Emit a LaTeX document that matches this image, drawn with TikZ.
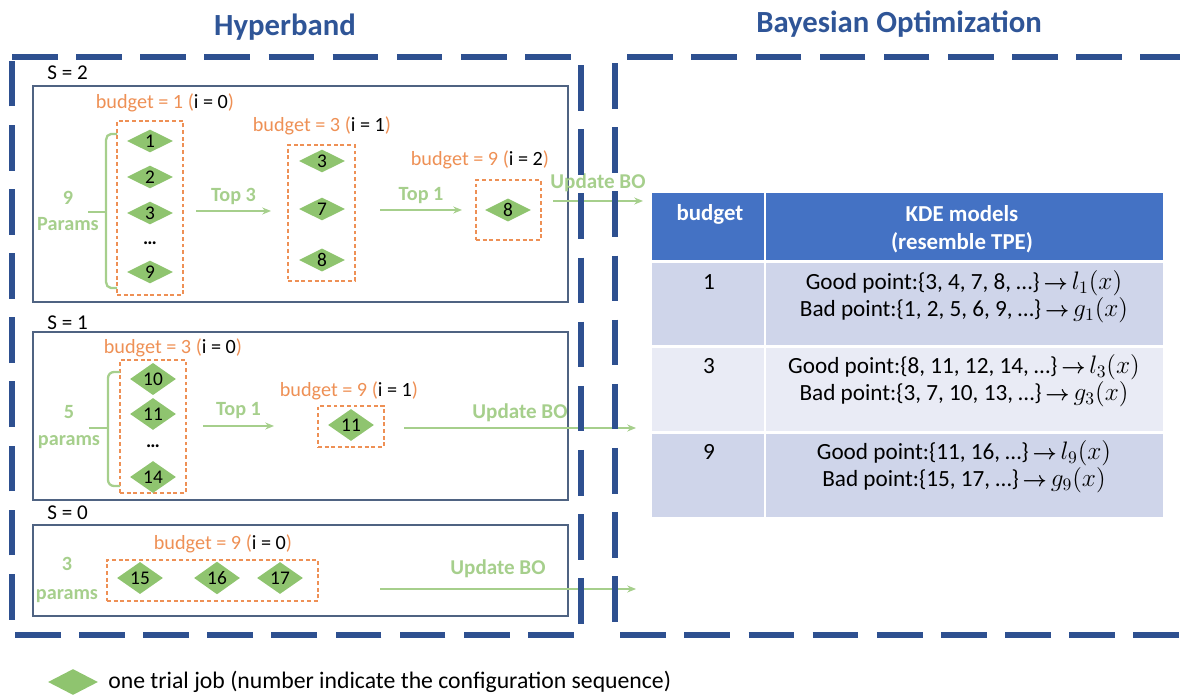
\documentclass[tikz,border=0pt]{standalone}
\usepackage{fontspec}
\setmainfont{Carlito}
\usetikzlibrary{arrows.meta,shapes.geometric,fit,calc}
\definecolor{dblue}{HTML}{2F5597}
\definecolor{dashblue}{HTML}{2E5090}
\definecolor{boxgray}{HTML}{4F6382}
\definecolor{orng}{HTML}{EE9055}
\definecolor{gtext}{HTML}{A6CF8C}
\definecolor{gfill}{HTML}{8FC46F}
\definecolor{hdrblue}{HTML}{4472C4}
\definecolor{rowdark}{HTML}{CFD5EA}
\definecolor{rowlight}{HTML}{E9EBF5}
\tikzset{
  bigdash/.style={draw=dashblue, line width=3.4pt, dash pattern=on 26pt off 10.5pt},
  ibox/.style={draw=boxgray, line width=0.7pt, inner sep=0pt},
  obox/.style={draw=orng, line width=0.75pt, dash pattern=on 2.2pt off 1.6pt, inner sep=0pt},
  job/.style={shape=diamond, fill=gfill, inner sep=0pt, minimum width=0.92cm, minimum height=0.46cm, font=\fontsize{11}{12}\selectfont},
  btxt/.style={font=\fontsize{11.5}{13}\selectfont, text=orng, inner sep=0pt},
  gbold/.style={font=\bfseries\fontsize{11.5}{13}\selectfont, text=gtext, inner sep=0pt, align=center},
  garrow/.style={draw=gtext, line width=0.7pt, -{Stealth[length=5pt,width=4pt]}},
  brace/.style={draw=gtext, line width=1.3pt},
  stxt/.style={font=\fontsize{12}{14}\selectfont, inner sep=0pt},
  ttxt/.style={font=\fontsize{13.2}{15}\selectfont, inner sep=0pt},
  htxt/.style={font=\bfseries\fontsize{13}{15}\selectfont, text=white, inner sep=0pt},
  title/.style={font=\bfseries\fontsize{17.5}{20}\selectfont, text=dblue, inner sep=0pt},
  dots/.style={font=\fontsize{11}{13}\selectfont, inner sep=0pt},
}
\newcommand{\bud}[2]{budget = #1 (\textcolor{black}{i = #2})}
\newcommand{\rarr}{{\boldmath$\rightarrow$}}
\newcommand{\fx}[2]{{\fontsize{14.5}{15}\selectfont$#1_{#2}(x)$}}
\begin{document}
\begin{tikzpicture}[x=0.02cm,y=-0.02cm]
\useasboundingbox (0,0) rectangle (1180,695);

% titles
\node[title] (hb) at (285,27) {Hyperband};
\node[title] (bo) at (899,24) {Bayesian Optimization};

% ---------- S = 2 ----------
\node[stxt, anchor=west] (s2) at (47,73) {S = 2};
\node[ibox, fit={(33,86) (568,302)}] (s2box) {};
\node[btxt] (b10) at (165,103) {\bud{1}{0}};
\node[obox, fit={(117,121) (183,295)}] (o10) {};
\node[job] (j1) at (150,141) {1};
\node[job] (j2) at (150,177) {2};
\node[job] (j3) at (150,213) {3};
\node[dots] (d1) at (150,243) {\textbf{…}};
\node[job] (j9) at (150,272) {9};
\node[gbold] (p9) at (68,211) {9\\[2pt]Params};
\coordinate (br1t) at (117,134);
\coordinate (br1b) at (117,288);
\coordinate (br1m) at (106,212);
\coordinate (br1s) at (88,212);
\draw[brace] (br1t) -- ++(-6,0) to[out=180,in=90] ++(-5,6) -- (br1m) -- ($(br1b)+(-11,-6)$) to[out=-90,in=180] ++(5,6) -- (br1b);
\draw[brace] (br1s) -- (br1m);
\coordinate (a1s) at (196,211);
\coordinate (a1e) at (271,211);
\draw[garrow] (a1s) -- (a1e) node[gbold, midway, above=3pt] (t3) {Top 3};

\node[btxt] (b31) at (322,126) {\bud{3}{1}};
\node[obox, fit={(288,145) (355,281)}] (o31) {};
\node[job] (j3b) at (322,161) {3};
\node[job] (j7) at (322,209) {7};
\node[job] (j8) at (322,260) {8};
\coordinate (a2s) at (380,210);
\coordinate (a2e) at (462,210);
\draw[garrow] (a2s) -- (a2e) node[gbold, midway, above=3pt] (t1) {Top 1};

\node[btxt] (b92) at (480,160) {\bud{9}{2}};
\node[obox, fit={(476,180) (541,240)}] (o92) {};
\node[job] (j8b) at (508,210) {8};
\node[gbold, font=\bfseries\fontsize{12}{14}\selectfont] (u1) at (598,183) {Update BO};
\coordinate (u1s) at (553,201);
\coordinate (u1e) at (643,201);
\draw[garrow] (u1s) -- (u1e);

% ---------- S = 1 ----------
\node[stxt, anchor=west] (s1) at (47,323) {S = 1};
\node[ibox, fit={(33,332) (568,500)}] (s1box) {};
\node[btxt] (b30) at (173,348) {\bud{3}{0}};
\node[obox, fit={(120,360) (186,493)}] (o30) {};
\node[job] (j10) at (153,379) {10};
\node[job] (j11) at (153,414) {11};
\node[dots] (d2) at (153,446) {\textbf{…}};
\node[job] (j14) at (153,477) {14};
\node[gbold] (p5) at (69,427) {5\\[2pt]params};
\coordinate (br2t) at (120,372);
\coordinate (br2b) at (120,486);
\coordinate (br2m) at (108,428);
\coordinate (br2s) at (89,428);
\draw[brace] (br2t) -- ++(-6,0) to[out=180,in=90] ++(-6,6) -- (br2m) -- ($(br2b)+(-12,-6)$) to[out=-90,in=180] ++(6,6) -- (br2b);
\draw[brace] (br2s) -- (br2m);
\coordinate (a3s) at (203,426);
\coordinate (a3e) at (274,426);
\draw[garrow] (a3s) -- (a3e) node[gbold, midway, above=4pt] (t1b) {Top 1};
\node[btxt] (b91) at (349,391) {\bud{9}{1}};
\node[obox, fit={(318,406) (384,447)}] (o91) {};
\node[job] (j11b) at (351,425) {11};
\node[gbold, font=\bfseries\fontsize{12}{14}\selectfont] (u2) at (520,413) {Update BO};
\coordinate (u2s) at (404,428);
\coordinate (u2e) at (636,428);
\draw[garrow] (u2s) -- (u2e);

% ---------- S = 0 ----------
\node[stxt, anchor=west] (s0) at (47,513) {S = 0};
\node[ibox, fit={(33,525) (568,616)}] (s0box) {};
\node[btxt] (b90) at (223,544) {\bud{9}{0}};
\node[obox, fit={(107,560) (318,601)}] (o90) {};
\node[job] (j15) at (140,578) {15};
\node[job] (j16) at (217,578) {16};
\node[job] (j17) at (280,578) {17};
\node[gbold] (p3) at (67,580) {3\\[4pt]params};
\node[gbold, font=\bfseries\fontsize{12}{14}\selectfont] (u3) at (498,569) {Update BO};
\coordinate (u3s) at (380,589);
\coordinate (u3e) at (636,589);
\draw[garrow] (u3s) -- (u3e);

% ---------- table ----------
\fill[hdrblue] (652,193) rectangle (1163,261);
\fill[rowdark] (652,261) rectangle (1163,346);
\fill[rowlight] (652,346) rectangle (1163,432);
\fill[rowdark] (652,432) rectangle (1163,517);
\draw[white, line width=1.4pt] (652,261.5) -- (1163,261.5) (652,346.5) -- (1163,346.5) (652,432.5) -- (1163,432.5) (765,193) -- (765,517);
\node[htxt] (hb1) at (710,214) {budget};
\node[htxt, align=center] (hk) at (962,229) {KDE models\\[1pt](resemble TPE)};
\node[ttxt] (r1) at (709,282) {1};
\node[ttxt] (r1g) at (964,283) {Good point:\{3, 4, 7, 8, …\}\,\rarr\,\fx{l}{1}};
\node[ttxt] (r1b) at (964,310) {Bad point:\{1, 2, 5, 6, 9, …\}\,\rarr\,\fx{g}{1}};
\node[ttxt] (r3) at (709,366) {3};
\node[ttxt] (r3g) at (964,367) {Good point:\{8, 11, 12, 14, …\}\,\rarr\,\fx{l}{3}};
\node[ttxt] (r3b) at (964,394) {Bad point:\{3, 7, 10, 13, …\}\,\rarr\,\fx{g}{3}};
\node[ttxt] (r9) at (709,452) {9};
\node[ttxt] (r9g) at (964,453) {Good point:\{11, 16, …\}\,\rarr\,\fx{l}{9}};
\node[ttxt] (r9b) at (964,480) {Bad point:\{15, 17, …\}\,\rarr\,\fx{g}{9}};

% ---------- big dashed frames ----------
\draw[bigdash] (12,57) -- (581,57) -- (581,635) -- (12,635) -- cycle;
\draw[bigdash] (1186,57) -- (615,57) -- (615,635) -- (1186,635);

% legend
\node[job, minimum width=1.0cm, minimum height=0.52cm] (lg) at (73,682) {};
\node[stxt, anchor=west, font=\fontsize{13.5}{15}\selectfont] (lgt) at (108,682) {one trial job (number indicate the configuration sequence)};
\end{tikzpicture}
\end{document}
